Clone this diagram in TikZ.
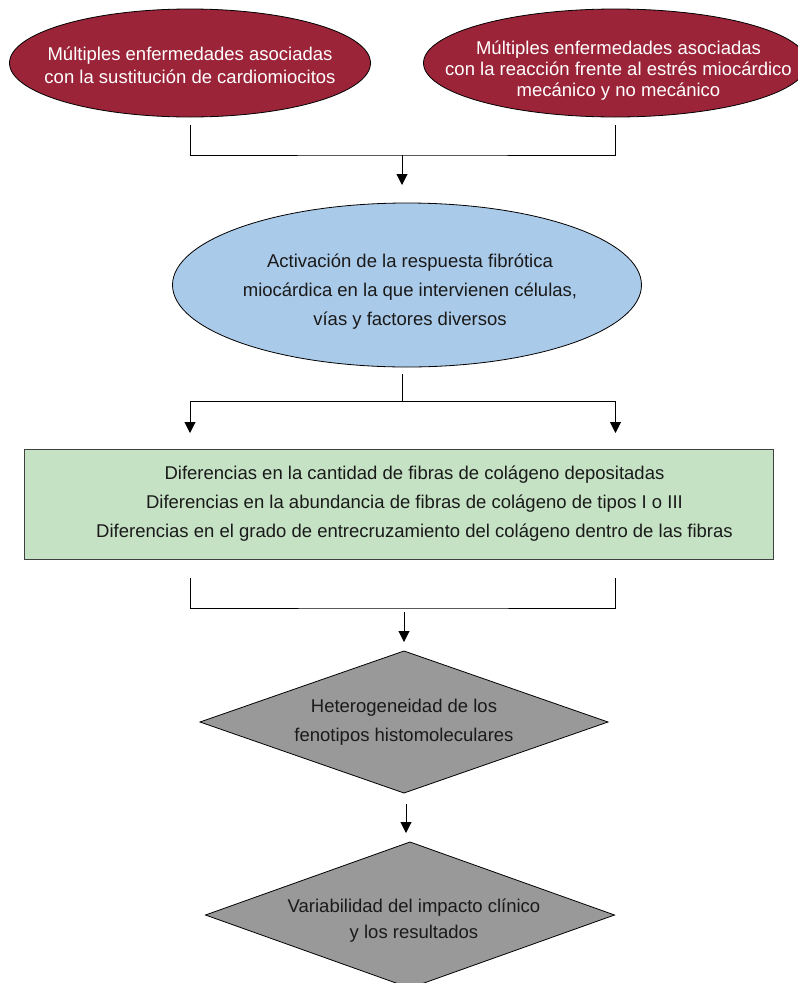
\documentclass[tikz,border=0pt]{standalone}
\usepackage{fontspec}
\setmainfont{Liberation Sans}
\usepackage{tikz}
\usetikzlibrary{arrows.meta, positioning, shapes.geometric, calc}
\definecolor{diseasefill}{HTML}{9C2439}
\definecolor{responsefill}{HTML}{AACAE9}
\definecolor{collagenfill}{HTML}{C5E2C4}
\definecolor{outcomefill}{HTML}{999999}
\definecolor{textdark}{HTML}{1A1A1A}
\tikzset{
    diseasenode/.style={
        ellipse, draw=black, fill=diseasefill,
        minimum height=108pt, inner sep=0pt, outer sep=0pt, line width=0.8pt
    },
    responsenode/.style={
        ellipse, draw=black, fill=responsefill,
        minimum width=469pt, minimum height=164pt, inner sep=0pt, outer sep=0pt, line width=0.8pt
    },
    collagenbox/.style={
        rectangle, draw=black!75, fill=collagenfill,
        minimum width=749pt, minimum height=110pt, outer sep=0pt, line width=1pt
    },
    outcomenode/.style={
        diamond, draw=black, fill=outcomefill,
        minimum width=408pt, minimum height=142pt, inner sep=0pt, outer sep=0pt, line width=0.8pt
    },
    nodetext/.style={
        font=\fontsize{18.5}{29}\selectfont, text=#1, align=center
    },
    nodetext/.default=textdark,
    connector/.style={
        line width=1pt, color=black
    },
    flowarrow/.style={
        -{Triangle[length=11pt, width=11pt]}, line width=1pt, color=black
    },
}
\begin{document}
\begin{tikzpicture}[x=1pt, y=1pt]
    \useasboundingbox (0,0) rectangle (798,-983);

    \node[diseasenode, minimum width=361pt] (enfA) at (190,-63) {};
    \node[nodetext=white, font=\fontsize{18.5}{23}\selectfont] (enfAtxt) at ([yshift=-2pt]enfA.center) {Múltiples enfermedades asociadas\\con la sustitución de cardiomiocitos};
    \node[diseasenode, minimum width=384pt, right=53pt of enfA] (enfB) {};
    \node[nodetext=white, font=\fontsize{18.5}{21}\selectfont] (enfBtxt) at ([xshift=3pt, yshift=-7.5pt]enfB.center) {Múltiples enfermedades asociadas\\con la reacción frente al estrés miocárdico\\mecánico y no mecánico};

    \coordinate (joinA) at (402,-155);
    \node[responsenode] (activ) at (407,-285) {};
    \node[nodetext] (activtxt) at ([xshift=3pt, yshift=-7pt]activ.center) {Activación de la respuesta fibrótica\\miocárdica en la que intervienen células,\\vías y factores diversos};

    \coordinate (joinB) at (402,-401);
    \node[collagenbox] (diff) at (398.5,-504) {};
    \node[nodetext] (difftxt) at ([xshift=16pt]diff.center) {Diferencias en la cantidad de fibras de colágeno depositadas\\Diferencias en la abundancia de fibras de colágeno de tipos I o III\\Diferencias en el grado de entrecruzamiento del colágeno dentro de las fibras};

    \coordinate (joinC) at (404,-608);
    \node[outcomenode] (hetero) at (404,-722) {};
    \node[nodetext] (heterotxt) at (hetero.center) {Heterogeneidad de los\\fenotipos histomoleculares};
    \node[outcomenode, minimum width=409pt, minimum height=146pt] (variab) at (410,-915) {};
    \node[nodetext, font=\fontsize{18.5}{26}\selectfont] (variabtxt) at ([xshift=4pt, yshift=-6pt]variab.center) {Variabilidad del impacto clínico\\y los resultados};

    % brackets and arrows
    \draw[connector] ([yshift=-8pt]enfA.south) |- (joinA) -| ([yshift=-8pt]enfB.south);
    \draw[flowarrow, shorten >=18pt] (joinA) -- (joinA |- activ.north);
    \draw[connector, shorten <=7pt] (activ.south -| joinB) -- (joinB);
    \draw[flowarrow, shorten >=16pt] (joinB) -| (diff.north -| enfA);
    \draw[flowarrow, shorten >=16pt] (joinB) -| (diff.north -| enfB);
    \draw[connector] ($(diff.south -| enfA)+(0,-19)$) |- (joinC) -| ($(diff.south -| enfB)+(0,-19)$);
    \draw[flowarrow, shorten <=4pt, shorten >=9pt] (joinC) -- (joinC |- hetero.north);
    \draw[flowarrow, shorten <=11pt, shorten >=9pt] ([xshift=2pt]hetero.south) -- ([xshift=2pt]hetero.south |- variab.north);
\end{tikzpicture}
\end{document}
